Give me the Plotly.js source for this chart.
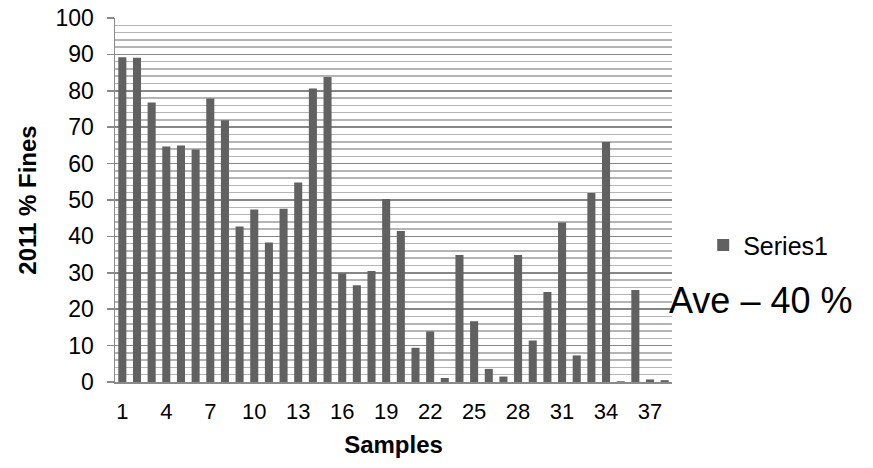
<!DOCTYPE html>
<html>
<head>
<meta charset="utf-8">
<script src="https://cdn.plot.ly/plotly-3.0.1.min.js"></script>
<style>html,body{margin:0;padding:0;background:#fff;}#chart{width:873px;height:468px;}</style>
</head>
<body>
<div id="chart"></div>
<script>
const samples = [1,2,3,4,5,6,7,8,9,10,11,12,13,14,15,16,17,18,19,20,21,22,23,24,25,26,27,28,29,30,31,32,33,34,35,36,37,38];
const fines2011 = [89.2,89.1,76.8,64.7,65.0,63.9,77.9,71.9,42.7,47.4,38.3,47.6,54.8,80.6,83.8,29.8,26.6,30.5,50.3,41.5,9.4,13.9,1.1,34.9,16.7,3.6,1.5,34.9,11.4,24.7,43.8,7.3,51.9,65.9,0.2,25.3,0.7,0.5];
const xTickVals = [1,4,7,10,13,16,19,22,25,28,31,34,37];
const yTickVals = [0,10,20,30,40,50,60,70,80,90,100];
const seriesName = 'Series1';
const noteText = 'Ave \u2013 40 %';

const font = 'Liberation Sans, Arial, sans-serif';
const data = [{
  type: 'bar',
  x: samples,
  y: fines2011,
  name: seriesName,
  marker: {color: '#616161'},
  showlegend: true
}];
const layout = {
  width: 873, height: 468,
  margin: {l: 115, r: 201, t: 18, b: 86},
  paper_bgcolor: '#fff', plot_bgcolor: '#fff',
  bargap: 0.45,
  font: {family: font, color: '#000'},
  showlegend: true,
  legend: {x: 1.056, xanchor: 'left', y: 0.376, yanchor: 'middle', font: {size: 25, family: font}, bgcolor: 'rgba(0,0,0,0)', itemwidth: 30},
  xaxis: {
    type: 'linear', range: [0.5, 38.5],
    tickmode: 'array', tickvals: xTickVals, ticktext: xTickVals.map(String),
    showgrid: false, zeroline: false,
    showline: true, linecolor: '#8a8a8a', linewidth: 1.5,
    ticks: '', tickfont: {size: 22, family: font},
    ticklabelstandoff: 9,
    title: {text: '<b>Samples</b>', font: {size: 24, family: font}, standoff: 13}
  },
  yaxis: {
    range: [0, 100], tickmode: 'array', tickvals: yTickVals,
    showgrid: true, gridcolor: '#868686', gridwidth: 1.5,
    minor: {dtick: 2, showgrid: true, gridcolor: '#b4b4b4', gridwidth: 1.5},
    zeroline: false,
    showline: true, linecolor: '#8a8a8a', linewidth: 1.5,
    ticks: 'outside', ticklen: 7, tickcolor: '#8a8a8a', tickwidth: 1.5,
    tickfont: {size: 23, family: font},
    ticklabelstandoff: 8,
    title: {text: '<b>2011 % Fines</b>', font: {size: 24, family: font}, standoff: 12}
  },
  annotations: [{
    xref: 'paper', yref: 'paper', x: 1.158, y: 0.225,
    xanchor: 'center', yanchor: 'middle', showarrow: false,
    text: noteText, font: {size: 36, family: font, color: '#000'}
  }]
};
Plotly.newPlot('chart', data, layout, {staticPlot: true, displayModeBar: false});
</script>
</body>
</html>
